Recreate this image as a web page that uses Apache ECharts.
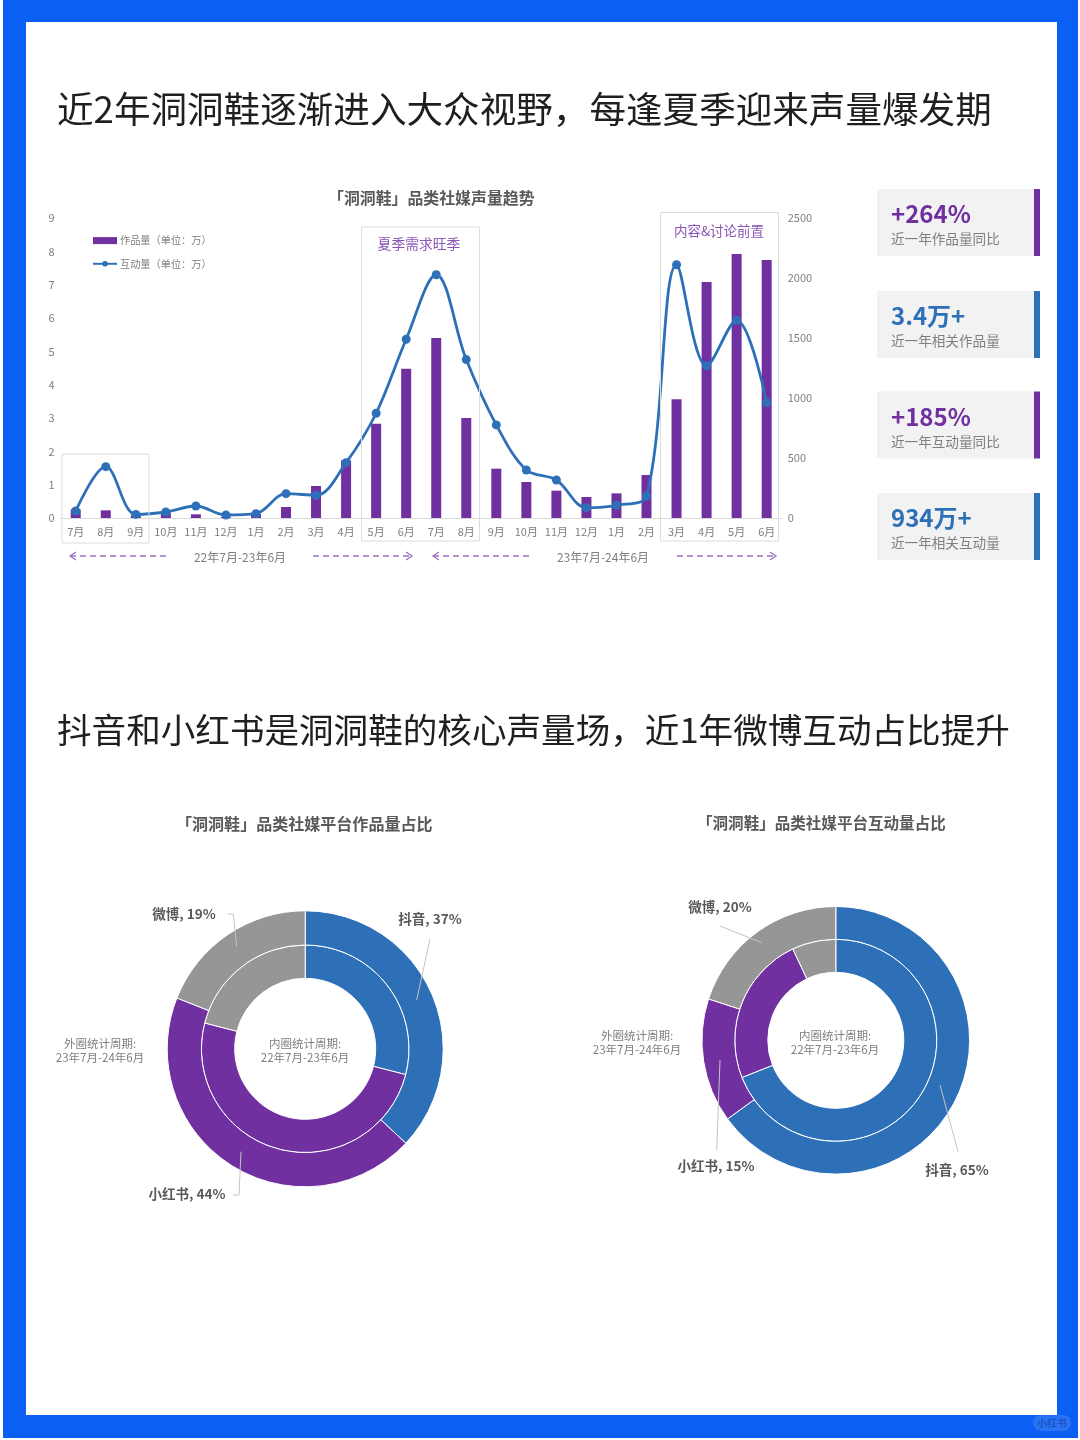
<!DOCTYPE html>
<html><head><meta charset="utf-8">
<style>html,body{margin:0;padding:0;background:#fff}
#wrap{position:relative;width:1080px;height:1440px}
#blue{position:absolute;left:3px;top:0;width:1075px;height:1438px;background:#0b5ff2}
#white{position:absolute;left:26px;top:22px;width:1031px;height:1393px;background:#fff}
#c{position:absolute;left:0;top:0;width:1080px;height:1440px}</style>
<script src="https://cdn.jsdelivr.net/npm/echarts@6/dist/echarts.min.js"></script>
</head><body><div id="wrap"><div id="blue"></div><div id="white"></div><div id="c"></div></div>
<script>
const months = ['7月','8月','9月','10月','11月','12月','1月','2月','3月','4月','5月','6月','7月','8月','9月','10月','11月','12月','1月','2月','3月','4月','5月','6月'];
const worksValues = [0.26,0.23,0.08,0.16,0.11,0.03,0.12,0.33,0.96,1.73,2.83,4.48,5.4,3.0,1.48,1.08,0.82,0.63,0.74,1.29,3.56,7.08,7.92,7.74];
const interactValues = [58,428,30,50,100,25,36,203,189,461,873,1490,2027,1320,776,400,317,86,106,183,2110,1268,1648,962];
const platforms = ['抖音','小红书','微博'];
const worksOuter = [37,44,19];
const worksInner = [29,50,21];
const interactOuter = [65,15,20];
const interactInner = [69,24,7];
const cardValues = ['+264%','3.4万+','+185%','934万+'];
const cardLabels = ['近一年作品量同比','近一年相关作品量','近一年互动量同比','近一年相关互动量'];

const PURPLE='#7030a0', BLUE='#2e70b8', GRAY='#969696', TXT='#7f7f7f', DARK='#595959';
const FF='"Noto Sans CJK SC","Open Sans",sans-serif';
const g=[];
function rect(x,y,w,h,fill,z){g.push({type:'rect',shape:{x,y,width:w,height:h},style:{fill},z:z||1,silent:true});}
function box(x,y,w,h){g.push({type:'rect',shape:{x,y,width:w,height:h},style:{fill:'none',stroke:'#dcdcdc',lineWidth:1},z:5,silent:true});}
function text(x,y,t,size,fill,weight,align,lh){g.push({type:'text',x,y,style:{text:t,font:(weight||'normal')+' '+size+'px '+FF,fill,align:align||'center',verticalAlign:'middle',lineHeight:lh||size*1.2},z:6,silent:true});}
function poly(pts,color,w,dash){g.push({type:'polyline',shape:{points:pts},style:{stroke:color,lineWidth:w||1,fill:'none',lineDash:dash||null},z:6,silent:true});}

// watermark on the frame
g.push({type:'rect',shape:{x:1033,y:1415,width:38,height:16,r:8},style:{fill:'#2a72f4'},z:1,silent:true});
text(1052,1423,'小红书',10,'#1a55c4','bold');

// highlight boxes
box(62,454,87,89); box(361.5,227,118,314); box(660.5,212.5,118,328.5);
text(419,244,'夏季需求旺季',13.8,'#8a55b4');
text(719,231,'内容&讨论前置',13.5,'#8a55b4');

// period ranges with dashed arrows
const ARW='#9a72c0';
text(240,557,'22年7月-23年6月',12,TXT);
text(603,557,'23年7月-24年6月',12,TXT);
function arrow(x1,x2,dir){
  poly([[x1,556],[x2,556]],ARW,1.3,[6,4]);
  const tip=dir<0?x1:x2;
  poly([[tip-(dir*6),552],[tip,556],[tip-(dir*6),560]],ARW,1.3);
}
arrow(70,168,-1); arrow(313,412,1); arrow(433,531,-1); arrow(677,776,1);

// cards
const cardTop=[189,291,391.5,493];
cardValues.forEach((v,i)=>{
  const y=cardTop[i], c=i%2?BLUE:PURPLE;
  rect(877,y,157,67,'#f2f2f2',2);
  rect(1034,y,6,67,c,3);
  text(891,y+25,v,24,c,'bold','left');
  text(891,y+50,cardLabels[i],13.6,TXT,'normal','left');
});

// donut captions and leader lines
const LEAD='#c4c4c4';
text(305,1051,'内圈统计周期:\n22年7月-23年6月',11.5,TXT,'normal','center',14);
text(100,1051,'外圈统计周期:\n23年7月-24年6月',11.5,TXT,'normal','center',14);
text(835,1043,'内圈统计周期:\n22年7月-23年6月',11.5,TXT,'normal','center',14);
text(637,1043,'外圈统计周期:\n23年7月-24年6月',11.5,TXT,'normal','center',14);
poly([[416.7,1000],[430,939]],LEAD);
poly([[236.7,946.7],[233.3,914],[228,914]],LEAD);
poly([[241,1151.7],[239,1195],[233,1195]],LEAD);
poly([[761.7,942.7],[720,926]],LEAD);
poly([[720,1060],[716.7,1150]],LEAD);
poly([[940,1085],[958,1151.7]],LEAD);

const colors=[BLUE,PURPLE,GRAY];
const toData=a=>a.map((v,i)=>({name:platforms[i],value:v,itemStyle:{color:colors[i]}}));
function ring(cx,cy,r0,r1,vals,labelPos){
  return {type:'pie',center:[cx,cy],radius:[r0,r1],startAngle:90,clockwise:true,animation:false,silent:true,
    avoidLabelOverlap:false,data:toData(vals),
    itemStyle:{borderColor:'#fff',borderWidth:1},
    labelLine:{show:false},
    label:labelPos?{show:true,formatter:'{b}, {d}%',fontFamily:FF,fontSize:13.5,fontWeight:'bold',color:DARK}:{show:false},
    labelLayout:labelPos?(p=>({x:labelPos[p.dataIndex][0],y:labelPos[p.dataIndex][1],align:'center',verticalAlign:'middle'})):undefined
  };
}
const titleStyle=(s)=>({fontFamily:FF,fontSize:s,fontWeight:'bold',color:DARK});
const plain=v=>String(v);
const option={
  animation:false,
  backgroundColor:'transparent',
  textStyle:{fontFamily:FF},
  title:[
    {text:'近2年洞洞鞋逐渐进入大众视野，每逢夏季迎来声量爆发期',left:57,top:91,padding:0,textStyle:{fontFamily:FF,fontSize:36.6,fontWeight:'normal',color:'#1f1f1f'}},
    {text:'抖音和小红书是洞洞鞋的核心声量场，近1年微博互动占比提升',left:57,top:713,padding:0,textStyle:{fontFamily:FF,fontSize:34.6,fontWeight:'normal',color:'#1f1f1f'}},
    {text:'「洞洞鞋」品类社媒声量趋势',left:328,top:190,padding:0,textStyle:titleStyle(15.9)},
    {text:'「洞洞鞋」品类社媒平台作品量占比',left:176,top:816,padding:0,textStyle:titleStyle(16.05)},
    {text:'「洞洞鞋」品类社媒平台互动量占比',left:697,top:815,padding:0,textStyle:titleStyle(15.55)}
  ],
  legend:{left:92,top:235.5,padding:0,orient:'vertical',itemWidth:24,itemHeight:7,itemGap:13,
    textStyle:{color:TXT,fontSize:10.2,fontFamily:FF,padding:[0,0,0,-2]},
    data:[{name:'作品量（单位：万）',icon:'rect'},{name:'互动量（单位：万）'}]},
  grid:{left:60.7,right:1080-781.7,top:218,height:300,containLabel:false},
  xAxis:{type:'category',data:months,boundaryGap:true,
    axisLine:{lineStyle:{color:'#d9d9d9'}},axisTick:{show:false},
    axisLabel:{color:TXT,fontSize:11,margin:8,interval:0,fontFamily:FF}},
  yAxis:[
    {type:'value',min:0,max:9,interval:1,splitLine:{show:false},axisLine:{show:false},axisTick:{show:false},
     axisLabel:{color:TXT,fontSize:11,margin:6,fontFamily:FF,formatter:plain}},
    {type:'value',min:0,max:2500,interval:500,position:'right',splitLine:{show:false},axisLine:{show:false},axisTick:{show:false},
     axisLabel:{color:TXT,fontSize:11,margin:6,fontFamily:FF,formatter:plain}}
  ],
  series:[
    {name:'作品量（单位：万）',type:'bar',yAxisIndex:0,data:worksValues,barWidth:10,itemStyle:{color:PURPLE},silent:true},
    {name:'互动量（单位：万）',type:'line',yAxisIndex:1,data:interactValues,smooth:0.35,symbol:'circle',symbolSize:9,
     lineStyle:{color:BLUE,width:2.8},itemStyle:{color:BLUE},silent:true,z:3},
    ring(305.2,1048.8,70.5,103.8,worksInner),
    ring(305.2,1048.8,103.8,138,worksOuter,[[430,919],[187,1194],[184,914]]),
    ring(835.8,1040.3,68,101,interactInner),
    ring(835.8,1040.3,101,133.8,interactOuter,[[957,1170],[716,1166],[720,907]])
  ],
  graphic:{elements:g}
};
const chart=echarts.init(document.getElementById('c'),null,{renderer:'canvas'});
chart.setOption(option);
</script></body></html>
